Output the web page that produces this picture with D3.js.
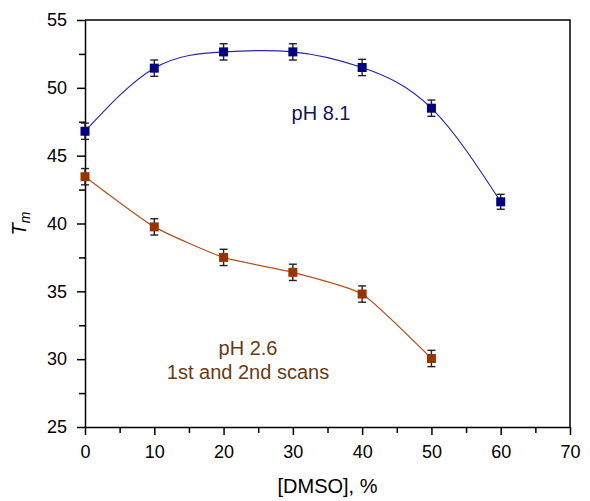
<!DOCTYPE html>
<html>
<head>
<meta charset="utf-8">
<script src="https://cdn.jsdelivr.net/npm/d3@7"></script>
<style>
  body { margin: 0; background: #fff; }
  text { font-family: "Liberation Sans", Arial, sans-serif; }
</style>
</head>
<body>
<div id="chart"></div>
<script>
// DMSO concentration (%) for each scan
let dmsoHigh = [0, 10, 20, 30, 40, 50, 60];
let tmHigh = [46.8, 51.45, 52.65, 52.65, 51.5, 48.5, 41.6];
let errHigh = [0.6, 0.6, 0.6, 0.6, 0.6, 0.6, 0.55];

let dmsoLow = [0, 10, 20, 30, 40, 50];
let tmLow = [43.45, 39.75, 37.5, 36.4, 34.8, 30.05];
let errLow = [0.6, 0.6, 0.6, 0.6, 0.6, 0.6];

let xTicks = [0, 10, 20, 30, 40, 50, 60, 70];
let yTicks = [25, 30, 35, 40, 45, 50, 55];

let svgWidth = 590;
let svgHeight = 501;
let margin = { top: 20, right: 20, bottom: 74, left: 85 };
let width = svgWidth - margin.left - margin.right;
let height = svgHeight - margin.top - margin.bottom;

let svg = d3.select("#chart")
  .append("svg")
  .attr("width", svgWidth)
  .attr("height", svgHeight);

let chartGroup = svg.append("g")
  .attr("transform", `translate(${margin.left}, ${margin.top})`);

let xScale = d3.scaleLinear().domain([0, 70]).range([0, width]);
let yScale = d3.scaleLinear().domain([25, 55]).range([height, 0]);

// frame (top + right)
chartGroup.append("path")
  .attr("d", `M0,0H${width}V${height}`)
  .attr("fill", "none")
  .attr("stroke", "#000")
  .attr("stroke-width", 1.5);

// minor ticks
let xMinor = chartGroup.append("g")
  .attr("transform", `translate(0, ${height})`)
  .call(d3.axisBottom(xScale).tickValues(d3.range(5, 70, 10)).tickSize(6).tickFormat(""));
let yMinor = chartGroup.append("g")
  .call(d3.axisLeft(yScale).tickValues(d3.range(27.5, 55, 5)).tickSize(6).tickFormat(""));

// major axes
let xAxis = chartGroup.append("g")
  .attr("transform", `translate(0, ${height})`)
  .call(d3.axisBottom(xScale).tickValues(xTicks).tickSize(8).tickPadding(10).tickSizeOuter(0));
let yAxis = chartGroup.append("g")
  .call(d3.axisLeft(yScale).tickValues(yTicks).tickSize(8).tickPadding(10).tickSizeOuter(0));

[xMinor, yMinor, xAxis, yAxis].forEach(g => {
  g.selectAll("path").attr("stroke-width", 1.5).attr("stroke", "#000");
  g.selectAll("line").attr("stroke-width", 1.5).attr("stroke", "#000");
});
[xMinor, yMinor].forEach(g => g.select(".domain").remove());
xAxis.selectAll("text").style("font-size", "18px").attr("fill", "#000");
yAxis.selectAll("text").style("font-size", "18px").attr("fill", "#000");

// series drawing
function drawSeries(xs, ys, errs, lineColor, markColor, curve) {
  let pts = xs.map((x, i) => ({ x: x, y: ys[i], e: errs[i] }));
  let line = d3.line()
    .x(d => xScale(d.x))
    .y(d => yScale(d.y))
    .curve(curve);
  chartGroup.append("path")
    .datum(pts)
    .attr("d", line)
    .attr("fill", "none")
    .attr("stroke", lineColor)
    .attr("stroke-width", 1.2);

  let bars = chartGroup.append("g").attr("stroke", "#222").attr("stroke-width", 1.4);
  pts.forEach(d => {
    let cx = xScale(d.x);
    let y1 = yScale(d.y + d.e);
    let y2 = yScale(d.y - d.e);
    bars.append("line").attr("x1", cx).attr("x2", cx).attr("y1", y1).attr("y2", y2);
    bars.append("line").attr("x1", cx - 4).attr("x2", cx + 4).attr("y1", y1).attr("y2", y1);
    bars.append("line").attr("x1", cx - 4).attr("x2", cx + 4).attr("y1", y2).attr("y2", y2);
  });

  chartGroup.selectAll(null)
    .data(pts)
    .enter()
    .append("rect")
    .attr("x", d => xScale(d.x) - 4.5)
    .attr("y", d => yScale(d.y) - 4.5)
    .attr("width", 9)
    .attr("height", 9)
    .attr("fill", markColor);
}

drawSeries(dmsoHigh, tmHigh, errHigh, "#2a2aa8", "#000080", d3.curveNatural);
drawSeries(dmsoLow, tmLow, errLow, "#b5501c", "#993300", d3.curveCardinal.tension(0.5));

// annotations
chartGroup.append("text")
  .attr("x", 321 - margin.left)
  .attr("y", 120 - margin.top)
  .attr("text-anchor", "middle")
  .style("font-size", "20px")
  .attr("fill", "#14145a")
  .text("pH 8.1");

chartGroup.append("text")
  .attr("x", 248 - margin.left)
  .attr("y", 355 - margin.top)
  .attr("text-anchor", "middle")
  .style("font-size", "20px")
  .attr("fill", "#6b3a12")
  .text("pH 2.6");

chartGroup.append("text")
  .attr("x", 248 - margin.left)
  .attr("y", 379 - margin.top)
  .attr("text-anchor", "middle")
  .style("font-size", "20px")
  .attr("fill", "#6b3a12")
  .text("1st and 2nd scans");

// axis titles
svg.append("text")
  .attr("x", margin.left + width / 2)
  .attr("y", 493)
  .attr("text-anchor", "middle")
  .style("font-size", "20px")
  .attr("fill", "#000")
  .text("[DMSO], %");

let yLabel = svg.append("text")
  .attr("transform", `translate(26, ${margin.top + height / 2}) rotate(-90)`)
  .attr("text-anchor", "middle")
  .attr("fill", "#000");
yLabel.append("tspan")
  .style("font-size", "20px")
  .style("font-style", "italic")
  .text("T");
yLabel.append("tspan")
  .attr("dy", 4)
  .style("font-size", "14px")
  .style("font-style", "italic")
  .text("m");
</script>
</body>
</html>
